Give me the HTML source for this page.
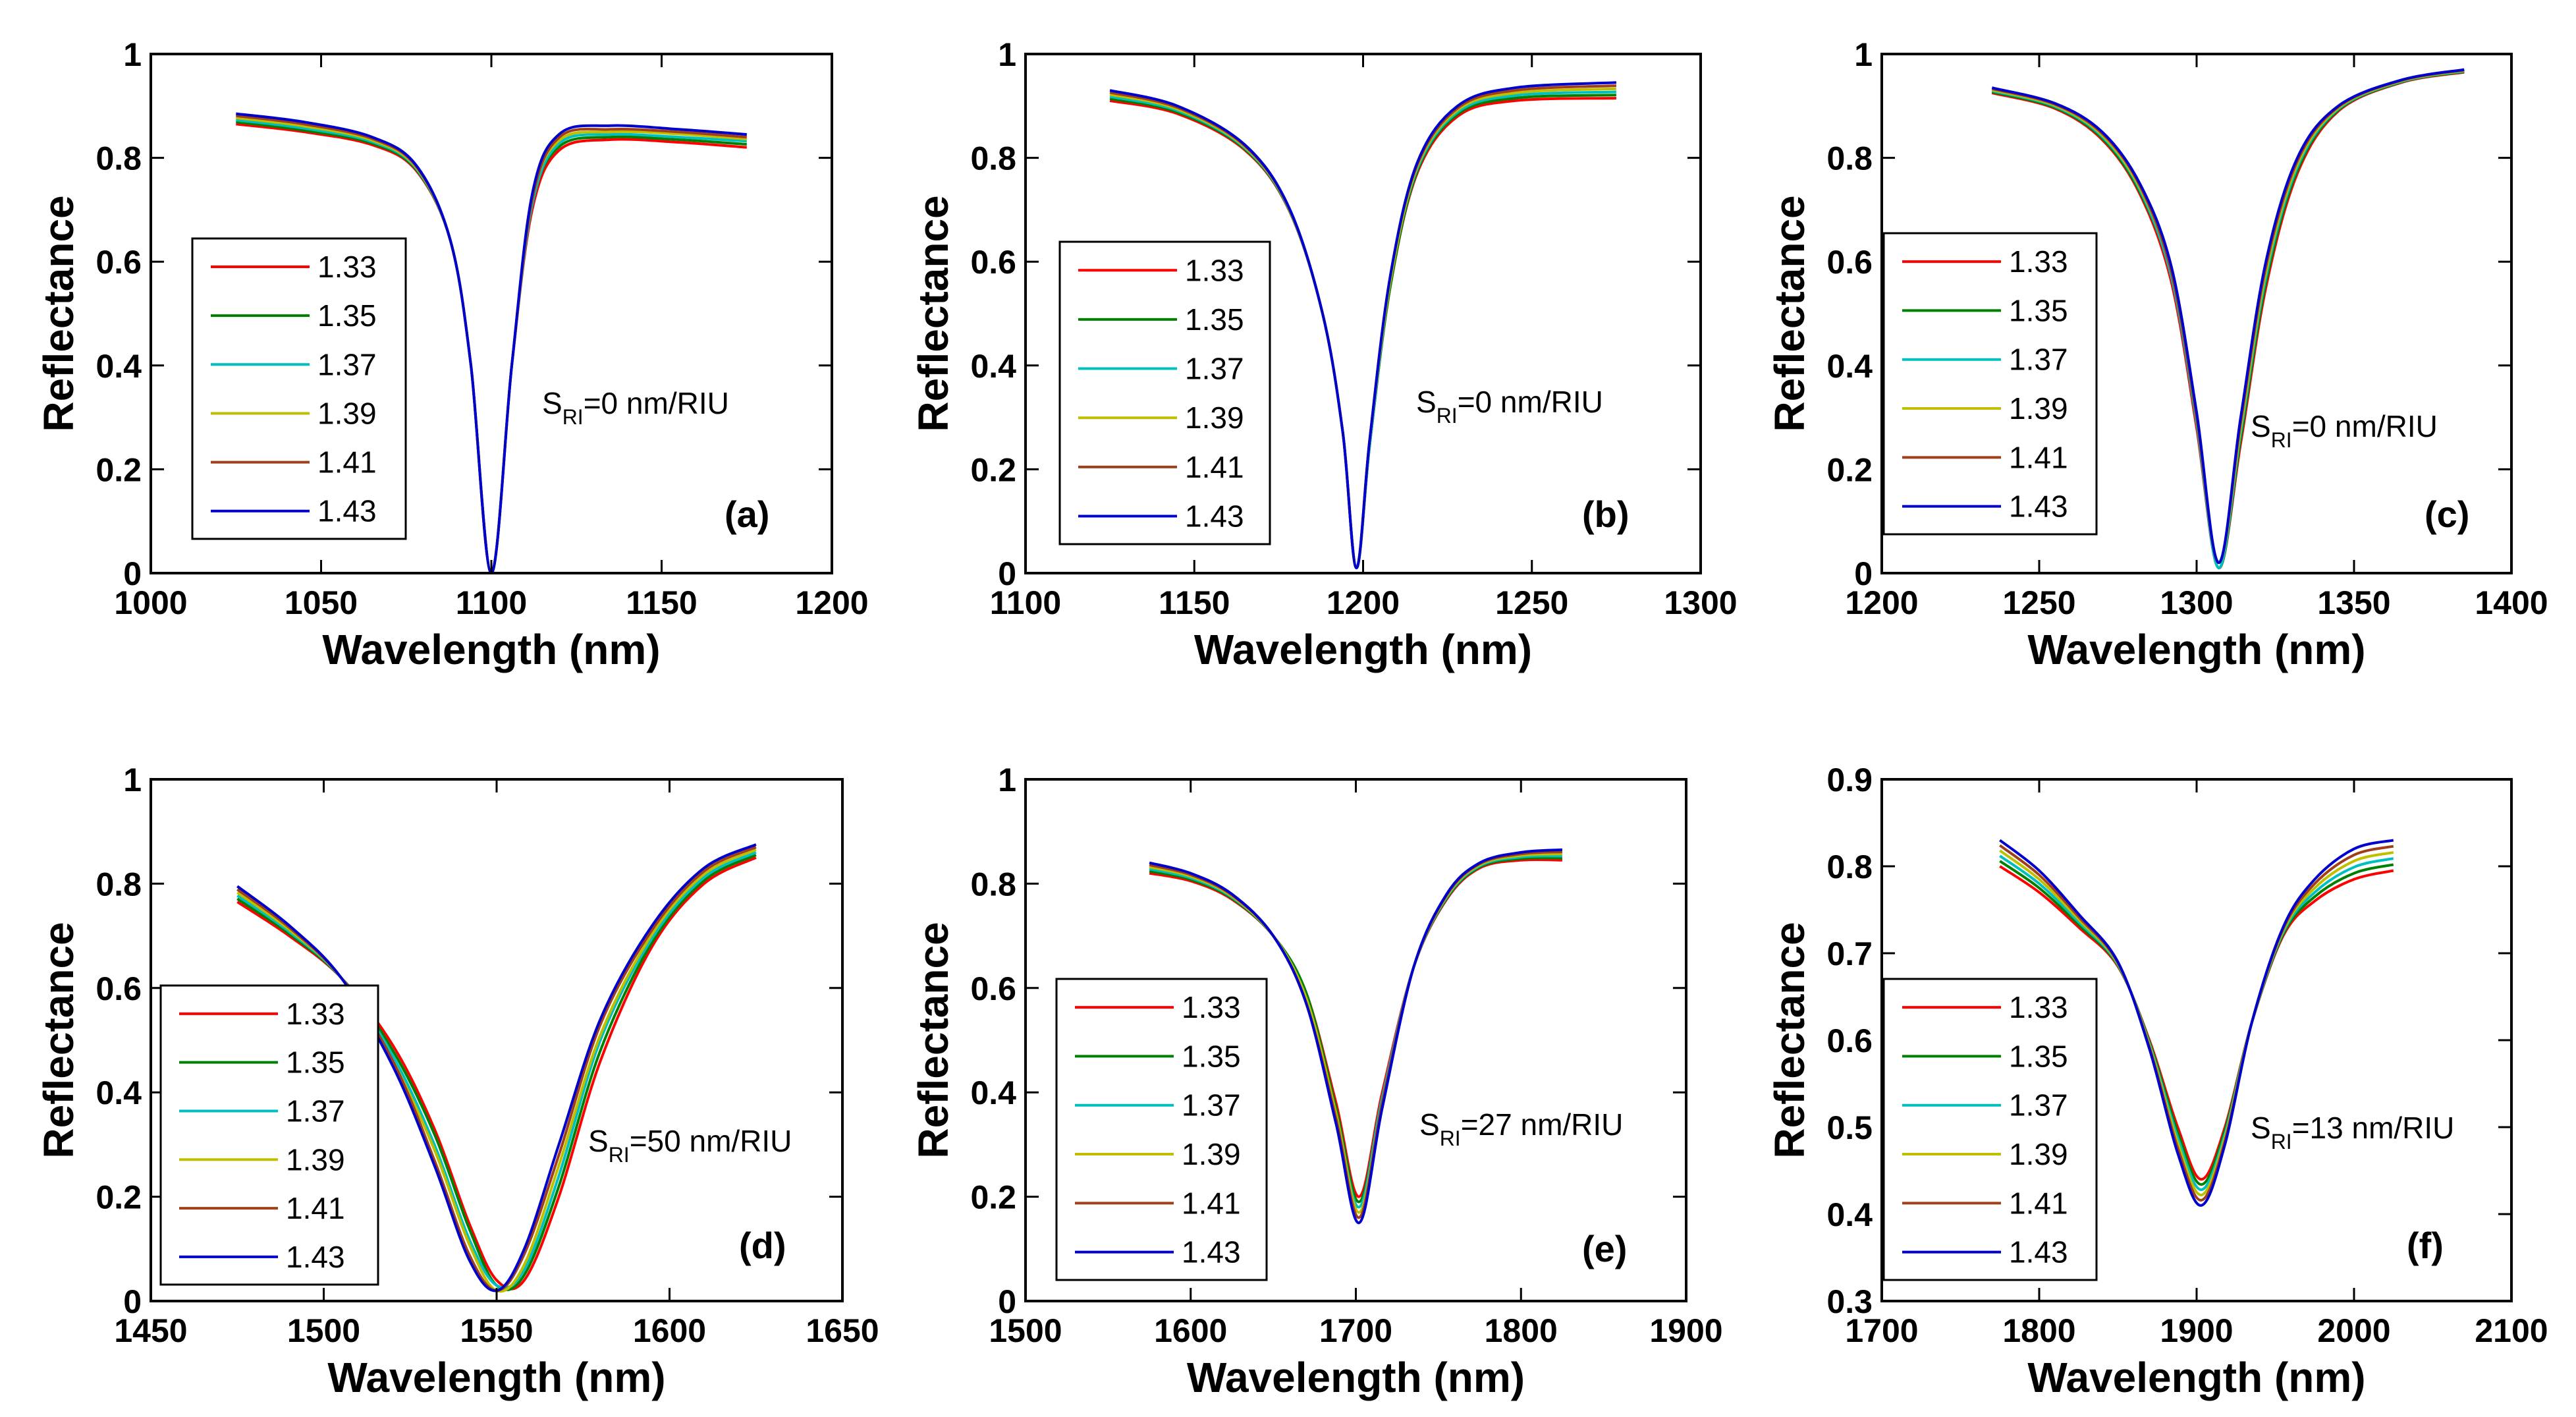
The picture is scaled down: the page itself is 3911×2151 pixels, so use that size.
<!DOCTYPE html>
<html><head><meta charset="utf-8">
<style>
html,body{margin:0;padding:0;background:#fff;}
svg{display:block;}
text{font-family:"Liberation Sans",Arial,sans-serif;}
</style></head>
<body>
<svg id="fig" width="3911" height="2151" viewBox="0 0 3911 2151" xmlns="http://www.w3.org/2000/svg"></svg>
<script>
const seriesLabels = ["1.33","1.35","1.37","1.39","1.41","1.43"];
const seriesColors = ["#ff0000","#008000","#00bfbf","#bfbf00","#a0401a","#0000cc"];

const aX = [1025,1045,1065,1078,1088,1094,1100,1106,1112,1120,1135,1155,1175];
const aY = [
 [0.865,0.850,0.825,0.775,0.64,0.40,0.00,0.40,0.70,0.815,0.835,0.830,0.820],
 [0.869,0.853,0.828,0.777,0.64,0.40,0.00,0.40,0.71,0.822,0.840,0.835,0.826],
 [0.873,0.857,0.831,0.779,0.64,0.40,0.00,0.40,0.71,0.828,0.845,0.840,0.832],
 [0.877,0.861,0.834,0.781,0.64,0.40,0.00,0.40,0.72,0.834,0.850,0.846,0.836],
 [0.881,0.865,0.837,0.783,0.64,0.40,0.00,0.40,0.72,0.840,0.855,0.850,0.840],
 [0.885,0.869,0.840,0.785,0.64,0.40,0.00,0.40,0.73,0.846,0.862,0.855,0.845]];
const bX = [1125,1145,1165,1178,1188,1194,1198,1202,1208,1216,1228,1245,1275];
const bY = [
 [0.910,0.885,0.815,0.700,0.50,0.27,0.01,0.25,0.55,0.770,0.880,0.910,0.915],
 [0.914,0.888,0.817,0.701,0.50,0.27,0.01,0.25,0.55,0.774,0.884,0.915,0.921],
 [0.918,0.891,0.819,0.702,0.50,0.27,0.01,0.25,0.56,0.778,0.888,0.920,0.927],
 [0.922,0.894,0.821,0.703,0.50,0.27,0.01,0.26,0.56,0.782,0.892,0.925,0.933],
 [0.926,0.897,0.823,0.704,0.50,0.27,0.01,0.26,0.57,0.786,0.896,0.930,0.939],
 [0.930,0.900,0.825,0.705,0.50,0.27,0.01,0.26,0.57,0.790,0.900,0.935,0.945]];
const cX = [1235,1255,1270,1282,1292,1300,1307,1314,1322,1332,1345,1365,1385];
const cY = [
 [0.925,0.895,0.835,0.730,0.56,0.28,0.01,0.25,0.55,0.770,0.890,0.945,0.965],
 [0.927,0.897,0.838,0.734,0.57,0.29,0.01,0.26,0.56,0.776,0.892,0.946,0.966],
 [0.929,0.899,0.841,0.738,0.57,0.29,0.01,0.27,0.57,0.782,0.894,0.947,0.967],
 [0.931,0.901,0.844,0.742,0.58,0.30,0.02,0.28,0.58,0.788,0.896,0.948,0.968],
 [0.933,0.903,0.847,0.746,0.58,0.30,0.02,0.29,0.59,0.794,0.898,0.949,0.969],
 [0.935,0.905,0.850,0.750,0.59,0.31,0.02,0.30,0.60,0.800,0.900,0.950,0.970]];
const dX = [1475,1490,1505,1520,1532,1542,1550,1558,1568,1580,1595,1610,1625];
const dY = [
 [0.765,0.700,0.620,0.49,0.33,0.15,0.04,0.04,0.20,0.46,0.680,0.800,0.850],
 [0.771,0.704,0.620,0.48,0.32,0.14,0.03,0.05,0.22,0.48,0.688,0.806,0.855],
 [0.777,0.708,0.620,0.47,0.30,0.12,0.03,0.06,0.24,0.50,0.696,0.812,0.860],
 [0.783,0.712,0.620,0.46,0.29,0.11,0.02,0.07,0.26,0.51,0.704,0.818,0.865],
 [0.789,0.716,0.620,0.46,0.27,0.09,0.02,0.09,0.28,0.53,0.712,0.824,0.870],
 [0.795,0.720,0.620,0.45,0.26,0.08,0.02,0.10,0.30,0.54,0.720,0.830,0.875]];
const eX = [1575,1600,1625,1650,1670,1688,1702,1716,1735,1755,1775,1800,1825];
const eY = [
 [0.820,0.805,0.770,0.70,0.59,0.38,0.20,0.40,0.64,0.770,0.830,0.845,0.845],
 [0.824,0.808,0.772,0.70,0.59,0.37,0.19,0.39,0.64,0.772,0.832,0.848,0.849],
 [0.828,0.811,0.774,0.70,0.58,0.36,0.18,0.39,0.64,0.774,0.834,0.851,0.853],
 [0.832,0.814,0.776,0.70,0.58,0.36,0.17,0.38,0.64,0.776,0.836,0.854,0.857],
 [0.836,0.817,0.778,0.70,0.57,0.35,0.16,0.38,0.64,0.778,0.838,0.857,0.861],
 [0.840,0.820,0.780,0.70,0.57,0.34,0.15,0.37,0.64,0.780,0.840,0.860,0.865]];
const fX = [1775,1800,1825,1850,1870,1888,1903,1918,1935,1955,1975,2000,2025];
const fY = [
 [0.800,0.770,0.730,0.685,0.600,0.500,0.440,0.500,0.620,0.720,0.760,0.785,0.795],
 [0.806,0.775,0.733,0.686,0.598,0.494,0.434,0.496,0.620,0.722,0.765,0.792,0.802],
 [0.812,0.780,0.736,0.687,0.596,0.488,0.428,0.492,0.620,0.724,0.770,0.799,0.809],
 [0.818,0.785,0.739,0.688,0.594,0.482,0.422,0.488,0.620,0.726,0.775,0.806,0.816],
 [0.824,0.790,0.742,0.689,0.592,0.476,0.416,0.484,0.620,0.728,0.780,0.813,0.823],
 [0.830,0.795,0.745,0.690,0.590,0.470,0.410,0.480,0.620,0.730,0.785,0.820,0.830]];

const aXT=[1000,1050,1100,1150,1200], bXT=[1100,1150,1200,1250,1300], cXT=[1200,1250,1300,1350,1400];
const dXT=[1450,1500,1550,1600,1650], eXT=[1500,1600,1700,1800,1900], fXT=[1700,1800,1900,2000,2100];
const yT1=[0,0.2,0.4,0.6,0.8,1], yTf=[0.3,0.4,0.5,0.6,0.7,0.8,0.9];
const sri=["0","0","0","50","27","13"];
const tags=["(a)","(b)","(c)","(d)","(e)","(f)"];

const NS="http://www.w3.org/2000/svg";
const svg=document.getElementById('fig');
function mk(tag,attrs,parent){const e=document.createElementNS(NS,tag);for(const k in attrs)e.setAttribute(k,attrs[k]);(parent||svg).appendChild(e);return e;}

const panels=[
 {id:'a',X:aX,Y:aY,xt:aXT,yt:yT1,L:229,R:1263,T:82,B:870,leg:[292,362,616,818],ann:[823,628],tag:[1100,800]},
 {id:'b',X:bX,Y:bY,xt:bXT,yt:yT1,L:1557,R:2582,T:82,B:870,leg:[1609,367,1928,826],ann:[2150,626],tag:[2402,800]},
 {id:'c',X:cX,Y:cY,xt:cXT,yt:yT1,L:2857,R:3813,T:82,B:870,leg:[2860,354,3183,811],ann:[3417,663],tag:[3681,800]},
 {id:'d',X:dX,Y:dY,xt:dXT,yt:yT1,L:229,R:1279,T:1183,B:1975,leg:[244,1496,574,1950],ann:[893,1748],tag:[1122,1910]},
 {id:'e',X:eX,Y:eY,xt:eXT,yt:yT1,L:1557,R:2560,T:1183,B:1975,leg:[1604,1486,1923,1943],ann:[2155,1723],tag:[2402,1915]},
 {id:'f',X:fX,Y:fY,xt:fXT,yt:yTf,L:2857,R:3813,T:1183,B:1975,leg:[2860,1486,3183,1943],ann:[3417,1728],tag:[3654,1910]}
];

function smoothPath(pts){
  let d=`M${pts[0][0].toFixed(1)},${pts[0][1].toFixed(1)}`;
  for(let i=0;i<pts.length-1;i++){
    const p0=pts[Math.max(0,i-1)],p1=pts[i],p2=pts[i+1],p3=pts[Math.min(pts.length-1,i+2)];
    const c1x=p1[0]+(p2[0]-p0[0])/6,c1y=p1[1]+(p2[1]-p0[1])/6;
    const c2x=p2[0]-(p3[0]-p1[0])/6,c2y=p2[1]-(p3[1]-p1[1])/6;
    d+=` C${c1x.toFixed(1)},${c1y.toFixed(1)} ${c2x.toFixed(1)},${c2y.toFixed(1)} ${p2[0].toFixed(1)},${p2[1].toFixed(1)}`;
  }
  return d;
}

panels.forEach((p,pi)=>{
  const g=mk('g',{});
  
  
  const x0=p.xt[0],x1=p.xt[p.xt.length-1],y0=p.yt[0],y1=p.yt[p.yt.length-1];
  const sx=v=>p.L+(v-x0)/(x1-x0)*(p.R-p.L);
  const sy=v=>p.B-(v-y0)/(y1-y0)*(p.B-p.T);
  // curves
  p.Y.forEach((ys,si)=>{
    const pts=p.X.map((x,i)=>[sx(x),sy(ys[i])]);
    const path=mk('path',{d:smoothPath(pts),fill:'none',stroke:seriesColors[si],'stroke-width':4},g);
    
    
  });
  // box
  const box=mk('rect',{x:p.L,y:p.T,width:p.R-p.L,height:p.B-p.T,fill:'none',stroke:'#000','stroke-width':4},g);
  
  
  // x ticks
  p.xt.forEach(v=>{
    const x=sx(v);
    mk('line',{x1:x,y1:p.B,x2:x,y2:p.B-20,stroke:'#000','stroke-width':3},g);
    mk('line',{x1:x,y1:p.T,x2:x,y2:p.T+20,stroke:'#000','stroke-width':3},g);
    const t=mk('text',{x:x,y:p.B+62,'font-size':50,'font-weight':'bold','text-anchor':'middle'},g);
    t.textContent=v;
    
    
  });
  p.yt.forEach(v=>{
    const y=sy(v);
    mk('line',{x1:p.L,y1:y,x2:p.L+20,y2:y,stroke:'#000','stroke-width':3},g);
    mk('line',{x1:p.R,y1:y,x2:p.R-20,y2:y,stroke:'#000','stroke-width':3},g);
    const t=mk('text',{x:p.L-14,y:y+18,'font-size':50,'font-weight':'bold','text-anchor':'end'},g);
    t.textContent=String(v).replace(/^0\./,'0.');
    
    
  });
  // axis titles
  const xt=mk('text',{x:(p.L+p.R)/2,y:p.B+138,'font-size':64,'font-weight':'bold','text-anchor':'middle'},g);
  xt.textContent='Wavelength (nm)';
  
  
  const yc=(p.T+p.B)/2, yx=p.L-140;
  const yt=mk('text',{x:yx,y:yc,'font-size':64,'font-weight':'bold','text-anchor':'middle',transform:`rotate(-90 ${yx} ${yc})`,dy:22},g);
  yt.textContent='Reflectance';
  
  
  // legend
  const [lx0,ly0,lx1,ly1]=p.leg;
  const lg=mk('g',{},g);
  
  
  mk('rect',{x:lx0,y:ly0,width:lx1-lx0,height:ly1-ly0,fill:'#fff',stroke:'#000','stroke-width':3},lg);
  const step=(ly1-ly0)/6.15;
  seriesLabels.forEach((s,si)=>{
    const ey=ly0+step*(si+0.58);
    const ent=mk('g',{},lg);
    
    
    mk('line',{x1:lx0+28,y1:ey,x2:lx0+178,y2:ey,stroke:seriesColors[si],'stroke-width':4},ent);
    const t=mk('text',{x:lx0+190,y:ey+16,'font-size':46},ent);
    t.textContent=s;
  });
  // annotation
  const an=mk('text',{x:p.ann[0],y:p.ann[1],'font-size':46},g);
  
  
  const s1=mk('tspan',{},an); s1.textContent='S';
  const s2=mk('tspan',{'font-size':32,dy:16},an); s2.textContent='RI';
  const s3=mk('tspan',{dy:-16},an); s3.textContent='='+sri[pi]+' nm/RIU';
  const tg=mk('text',{x:p.tag[0],y:p.tag[1],'font-size':56,'font-weight':'bold'},g);
  tg.textContent=tags[pi];
  
  
});
</script>
</body></html>
